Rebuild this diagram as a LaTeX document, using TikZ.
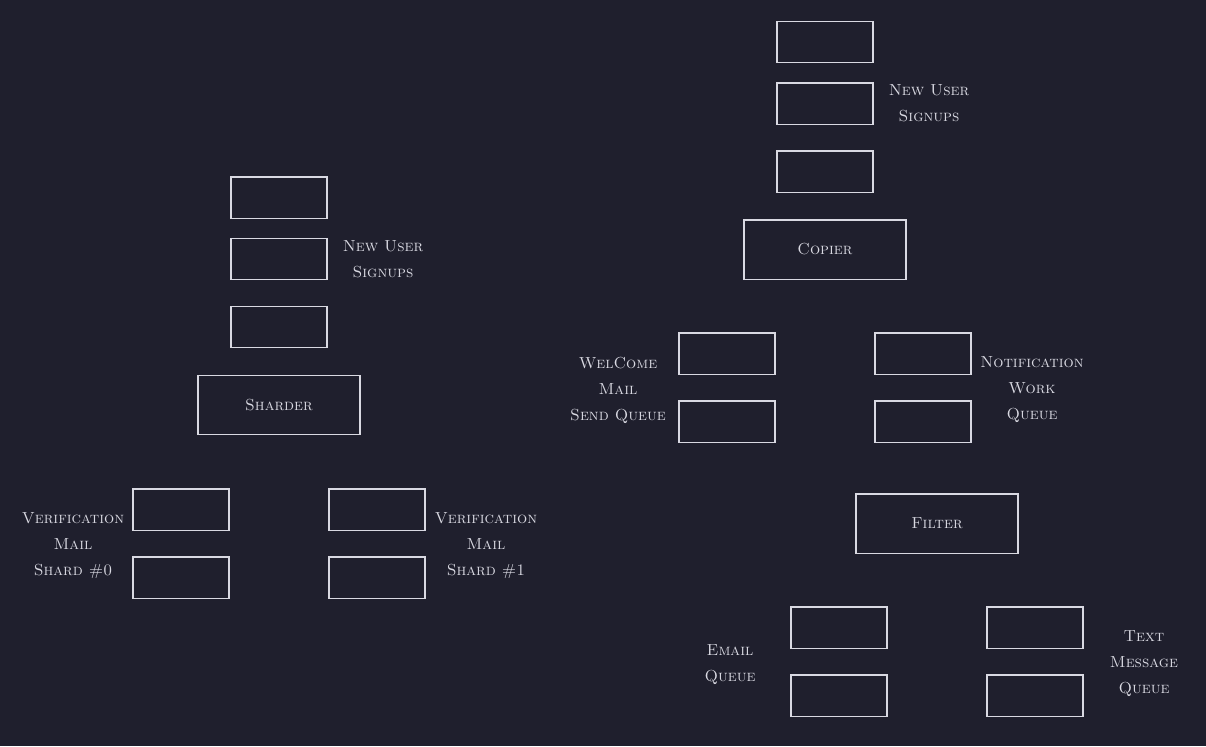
\documentclass[tikz,border=0pt]{standalone}
\usepackage{tikz}
\usetikzlibrary{positioning}
\definecolor{bg}{HTML}{1F1F2D}
\definecolor{ink}{HTML}{D9D9E2}
\tikzstyle{msg} = [rectangle, minimum width=72pt, minimum height=31pt, draw=ink, line width=1pt, inner sep=0pt]
\tikzstyle{stage} = [rectangle, minimum width=121.5pt, minimum height=44.5pt, draw=ink, line width=1pt, text=ink, font=\fontsize{12}{19.5}\selectfont\scshape]
\tikzstyle{note} = [text=ink, align=center, font=\fontsize{12}{19.5}\selectfont\scshape, inner sep=0pt, yshift=-1.5pt]

\begin{document}
\begin{tikzpicture}[x=0.75pt, y=-0.75pt]

\fill[bg] (0,0) rectangle (1206,746);

% sharded stream
\node (lsig1) at (279,197.5) [msg] {};
\node (lsig2) at (279,259) [msg] {};
\node (lsig3) at (279,327) [msg] {};
\node (lsignote) at (383,257.5) [note] {New User\\Signups};
\node (sharder) at (279,405) [stage] {Sharder};

\node (shA1) at (181,509.5) [msg] {};
\node (shA2) at (181,577.5) [msg] {};
\node (shAnote) at (73,544) [note] {Verification\\Mail\\Shard \#0};
\node (shB1) at (377,509.5) [msg] {};
\node (shB2) at (377,577.5) [msg] {};
\node (shBnote) at (486,544) [note] {Verification\\Mail\\Shard \#1};

% copied stream
\node (rsig1) at (825,42) [msg] {};
\node (rsig2) at (825,103.5) [msg] {};
\node (rsig3) at (825,171.5) [msg] {};
\node (rsignote) at (929,101.5) [note] {New User\\Signups};
\node (copier) at (825,249.5) [stage] {Copier};

\node (welc1) at (727,353.5) [msg] {};
\node (welc2) at (727,421.5) [msg] {};
\node (welcnote) at (618,388) [note] {WelCome\\Mail\\Send Queue};
\node (notif1) at (923,353.5) [msg] {};
\node (notif2) at (923,421.5) [msg] {};
\node (notifnote) at (1032,388) [note] {Notification\\Work\\Queue};

\node (filter) at (937,523.5) [stage] {Filter};

\node (email1) at (839,627.5) [msg] {};
\node (email2) at (839,695.5) [msg] {};
\node (emailnote) at (730,662.5) [note] {Email\\Queue};
\node (text1) at (1035,627.5) [msg] {};
\node (text2) at (1035,695.5) [msg] {};
\node (textnote) at (1144,662) [note] {Text\\Message\\Queue};

\end{tikzpicture}
\end{document}
